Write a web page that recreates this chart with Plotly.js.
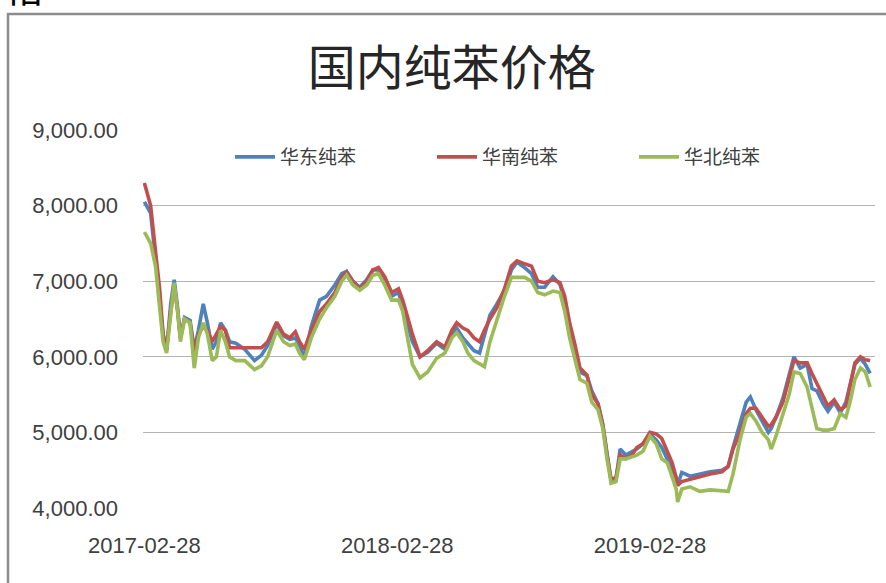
<!DOCTYPE html>
<html>
<head>
<meta charset="utf-8">
<script src="https://cdn.plot.ly/plotly-3.0.1.min.js"></script>
<style>html,body{margin:0;padding:0;background:#fff;}#chart{width:886px;height:583px;}</style>
</head>
<body>
<div id="chart"></div>
<script>
const dates = ['2017-02-28','2017-03-09','2017-03-16','2017-03-22','2017-03-27','2017-04-01','2017-04-07','2017-04-12','2017-04-17','2017-04-21',
'2017-04-27','2017-05-05','2017-05-11','2017-05-17','2017-05-24','2017-05-30','2017-06-06','2017-06-12','2017-06-18','2017-06-25',
'2017-07-01','2017-07-10','2017-07-23','2017-08-06','2017-08-16','2017-08-25','2017-09-07','2017-09-17','2017-09-26','2017-10-04',
'2017-10-10','2017-10-17','2017-10-27','2017-11-08','2017-11-18','2017-11-30','2017-12-10','2017-12-17','2017-12-26','2018-01-05',
'2018-01-15','2018-01-24','2018-02-01','2018-02-10','2018-02-20','2018-03-02','2018-03-08','2018-03-15','2018-03-22','2018-04-02',
'2018-04-13','2018-04-26','2018-05-08','2018-05-18','2018-05-25','2018-06-03','2018-06-10','2018-06-19','2018-06-27','2018-07-04',
'2018-07-12','2018-07-22','2018-08-02','2018-08-12','2018-08-20','2018-08-31','2018-09-10','2018-09-19','2018-09-29','2018-10-11',
'2018-10-21','2018-10-28','2018-11-04','2018-11-12','2018-11-19','2018-11-29','2018-12-06','2018-12-15','2018-12-22','2018-12-28',
'2019-01-03','2019-01-10','2019-01-16','2019-01-24','2019-02-02','2019-02-09','2019-02-18','2019-02-28','2019-03-09','2019-03-17',
'2019-03-25','2019-04-01','2019-04-07','2019-04-09','2019-04-15','2019-04-27','2019-05-11','2019-05-26','2019-06-12','2019-06-21',
'2019-06-28','2019-07-08','2019-07-17','2019-07-23','2019-07-31','2019-08-09','2019-08-18','2019-08-22','2019-08-29','2019-09-08',
'2019-09-17','2019-09-24','2019-10-03','2019-10-13','2019-10-20','2019-10-27','2019-11-05','2019-11-12','2019-11-21','2019-11-30',
'2019-12-08','2019-12-14','2019-12-21','2019-12-29','2020-01-05','2020-01-12'];

const eastChina = [8050,7900,7300,6800,6300,6080,6700,7020,6650,6250,
6520,6480,6100,6350,6700,6450,6100,6200,6450,6350,
6200,6180,6100,5950,6020,6150,6430,6280,6230,6250,
6150,6000,6400,6750,6800,6950,7100,7130,7000,6920,
7020,7150,7150,7020,6800,6850,6650,6400,6200,6000,
6060,6180,6100,6300,6380,6250,6180,6080,6050,6300,
6550,6700,6880,7150,7250,7180,7100,6920,6920,7060,
6960,6750,6400,6050,5800,5750,5550,5380,5100,4700,
4350,4380,4780,4700,4750,4780,4850,4980,4900,4800,
4650,4500,4400,4300,4470,4420,4450,4480,4500,4550,
4800,5100,5400,5470,5300,5150,5000,5050,5200,5450,
5750,6000,5850,5900,5580,5550,5380,5280,5400,5260,
5400,5650,5900,5980,5900,5780];

const southChina = [8300,8000,7400,6900,6300,6100,6600,6950,6600,6250,
6500,6450,6050,6300,6400,6350,6200,6300,6400,6350,
6120,6120,6120,6120,6120,6200,6460,6300,6250,6330,
6200,6100,6350,6600,6700,6850,7050,7120,7000,6900,
7000,7150,7180,7060,6850,6900,6750,6530,6300,6000,
6080,6200,6130,6350,6450,6380,6350,6250,6200,6350,
6500,6650,6900,7200,7270,7230,7200,7000,6980,7020,
6980,6800,6450,6150,5850,5760,5500,5380,5100,4700,
4380,4400,4700,4650,4700,4800,4850,5000,4980,4920,
4750,4600,4400,4300,4350,4380,4420,4450,4480,4550,
4780,5000,5250,5320,5320,5200,5080,5100,5200,5400,
5700,5950,5920,5920,5780,5650,5500,5350,5430,5300,
5350,5600,5920,6000,5960,5950];

const northChina = [7650,7500,7200,6700,6200,6050,6600,6980,6600,6200,
6500,6450,5850,6250,6450,6300,5950,6000,6350,6200,
6000,5950,5950,5830,5880,6000,6350,6200,6150,6170,
6050,5960,6250,6500,6650,6800,7000,7080,6950,6880,
6950,7080,7100,6950,6750,6750,6600,6250,5900,5720,
5800,5980,6050,6250,6320,6200,6050,5950,5900,5870,
6200,6500,6800,7050,7050,7050,7000,6850,6820,6870,
6850,6600,6250,5950,5700,5650,5400,5300,5050,4650,
4330,4350,4650,4650,4680,4700,4750,4950,4850,4650,
4600,4400,4250,4080,4250,4280,4220,4240,4220,4220,
4450,4900,5200,5250,5150,5000,4900,4780,4950,5250,
5500,5800,5780,5600,5300,5050,5030,5030,5050,5250,
5200,5400,5700,5850,5800,5600];

const seriesNames = ['华东纯苯','华南纯苯','华北纯苯'];
const xTicks = ['2017-02-28','2018-02-28','2019-02-28'];
const yTicks = [4000,5000,6000,7000,8000,9000];

const colors = ['#4F81BD','#C0504D','#9BBB59'];
const allSeries = [eastChina, southChina, northChina];

const traces = allSeries.map((vals, i) => ({
  type: 'scatter', mode: 'lines', x: dates, y: vals, name: seriesNames[i],
  line: {color: colors[i], width: 3.6}
}));

const tickFont = {family: 'Liberation Sans, Arial, sans-serif', size: 22, color: '#404040'};

const layout = {
  width: 886, height: 583,
  margin: {l: 143, r: 11, t: 130, b: 75, autoexpand: false},
  paper_bgcolor: '#ffffff', plot_bgcolor: '#ffffff',
  showlegend: true,
  title: {
    text: '国内纯苯价格',
    font: {family: 'Noto Sans CJK SC, sans-serif', size: 48, color: '#262626'},
    xref: 'container', x: 0.51, xanchor: 'center',
    yref: 'container', y: 1 - 68/583, yanchor: 'middle'
  },
  xaxis: {
    type: 'date', range: ['2017-02-26', '2020-01-19'],
    tickmode: 'array', tickvals: xTicks, ticktext: xTicks,
    showgrid: false, zeroline: false, showline: false, ticks: '',
    ticklabelstandoff: 22,
    tickfont: tickFont
  },
  yaxis: {
    range: [4000, 9000], tickmode: 'array', tickvals: yTicks, tickformat: ',.2f',
    showgrid: true, gridcolor: '#b3b3b3', gridwidth: 1,
    zeroline: false, showline: false, ticks: '',
    ticklabelstandoff: 24,
    tickfont: tickFont
  },
  legend: {
    orientation: 'h', x: (230-143)/732, xanchor: 'left',
    y: (508-157)/378, yanchor: 'middle',
    font: {family: 'Noto Sans CJK SC, sans-serif', size: 19, color: '#404040'},
    bgcolor: 'rgba(0,0,0,0)', itemwidth: 40, entrywidth: 147, traceorder: 'normal'
  },
  shapes: [{
    type: 'rect', xref: 'paper', yref: 'paper',
    x0: (8-143)/732, x1: 1.1, y0: -0.3, y1: (508-14)/378,
    line: {color: '#8c8c8c', width: 2.5}, fillcolor: 'rgba(0,0,0,0)', layer: 'below'
  }],
  annotations: [{
    text: '价格', xref: 'paper', yref: 'paper',
    x: (46-143)/732, xanchor: 'right', y: (508-16)/378, yanchor: 'bottom',
    showarrow: false,
    font: {family: 'Noto Sans CJK SC, sans-serif', size: 40, color: '#000000'}
  }]
};

Plotly.newPlot('chart', traces, layout, {displayModeBar: false, staticPlot: true});
</script>
</body>
</html>
